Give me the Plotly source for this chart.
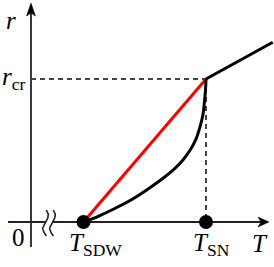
import plotly.graph_objects as go
import numpy as np

# ---- data (schematic units) ----
T_SDW = 1.0
T_SN = 2.0
r_cr = 1.0
curve_T = [1.0, 1.12, 1.243, 1.38, 1.516, 1.633, 1.733, 1.81, 1.871, 1.918, 1.951, 1.975, 1.986, 1.995, 2.0]
curve_r = [0.0, 0.040, 0.089, 0.150, 0.224, 0.295, 0.364, 0.432, 0.503, 0.580, 0.666, 0.750, 0.830, 0.915, 1.0]
upper_T = [2.0, 2.545]
upper_r = [1.0, 1.257]
axis_T0 = 0.5714          # position of r axis on T scale
x_axis_span = [0.3837, 2.514]
y_axis_span = [-0.175, 1.531]
break_gap = [0.686, 0.751]

# pixel scale helpers (for arrowhead / squiggle sizes)
sx = 1 / 122.5
sy = 1 / 143.0

axis_col = "#222222"
dash_col = "#444444"

fig = go.Figure()

def line(x, y, color, width, dash=None, shape="linear"):
    fig.add_trace(go.Scatter(x=x, y=y, mode="lines",
                             line=dict(color=color, width=width, dash=dash, shape=shape),
                             hoverinfo="skip", showlegend=False))

# axes
line([x_axis_span[0], break_gap[0]], [0, 0], axis_col, 1.8)
line([break_gap[1], x_axis_span[1] - 6 * sx], [0, 0], axis_col, 1.8)
line([axis_T0, axis_T0], [y_axis_span[0], y_axis_span[1] - 6 * sy], axis_col, 1.8)

# arrowheads
tipx = x_axis_span[1]
fig.add_trace(go.Scatter(
    x=[tipx, tipx - 11 * sx, tipx - 8 * sx, tipx - 11 * sx, tipx],
    y=[0, 5 * sy, 0, -5 * sy, 0], mode="lines", fill="toself",
    fillcolor="black", line=dict(color="black", width=0.5),
    hoverinfo="skip", showlegend=False))
tipy = y_axis_span[1]
fig.add_trace(go.Scatter(
    x=[axis_T0, axis_T0 + 4.5 * sx, axis_T0, axis_T0 - 4.5 * sx, axis_T0],
    y=[tipy, tipy - 13 * sy, tipy - 10 * sy, tipy - 13 * sy, tipy], mode="lines", fill="toself",
    fillcolor="black", line=dict(color="black", width=0.5),
    hoverinfo="skip", showlegend=False))

# axis break squiggles
t = np.linspace(0, 1, 40)
for c in [break_gap[0] + 0.5 * sx, break_gap[1] - 0.5 * sx]:
    ys = 0.084 - t * (0.084 + 0.098)
    xs = c + 2.8 * sx * np.sin(2 * np.pi * t * 1.0 + 0.3)
    line(list(xs), list(ys), axis_col, 1.6)

# dashed guide lines
line([axis_T0, T_SN], [r_cr, r_cr], dash_col, 2, dash="5px,4px")
line([T_SN, T_SN], [r_cr, 0], dash_col, 2, dash="5px,4px")

# red straight line
line([T_SDW, T_SN], [0, r_cr], "#ff0000", 3)
# black curve
line(curve_T, curve_r, "black", 3, shape="spline")
# upper black line
line(upper_T, upper_r, "black", 3)

# dots
fig.add_trace(go.Scatter(x=[T_SDW, T_SN], y=[0, 0], mode="markers",
                         marker=dict(color="black", size=14),
                         hoverinfo="skip", showlegend=False))

FAM = "Liberation Serif, Times New Roman, serif"
font = dict(family=FAM, size=25, color="black")
labels = [
    (0.408, 1.41, "<i>r</i>"),
    (0.43, 1.0, "<i>r</i><sub>cr</sub>"),
    (0.473, -0.105, "0"),
    (1.094, -0.16, "<i>T</i><sub>SDW</sub>"),
    (2.041, -0.16, "<i>T</i><sub>SN</sub>"),
    (2.441, -0.147, "<i>T</i>"),
]
for x, y, txt in labels:
    fig.add_annotation(x=x, y=y, text=txt, showarrow=False, font=font,
                       xanchor="center", yanchor="middle")

fig.update_layout(
    width=274, height=267, margin=dict(l=0, r=0, t=0, b=0),
    paper_bgcolor="white", plot_bgcolor="white",
    font=dict(family=FAM),
    xaxis=dict(range=[0.3184, 2.555], visible=False, fixedrange=True),
    yaxis=dict(range=[-0.3147, 1.5524], visible=False, fixedrange=True),
)
fig.write_html("out.html", config={"displayModeBar": False},
               post_script="document.body.style.margin='0';document.body.style.overflow='hidden';")
